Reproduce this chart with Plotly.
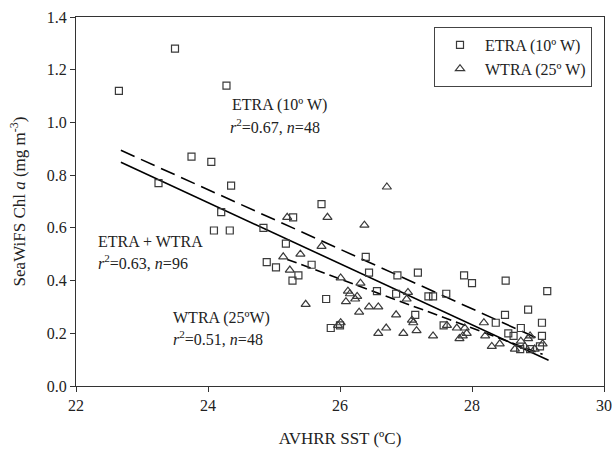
import plotly.graph_objects as go
import numpy as np

# ETRA (10º W) observations: SST (ºC), Chl a (mg m-3)
etra_sst = [22.65, 23.50, 24.28, 23.25, 23.75, 24.05, 24.35, 24.20, 24.09, 24.33,
            24.84, 25.29, 25.72, 25.18, 24.89, 25.03, 25.28, 25.37, 25.57, 25.79,
            25.86, 26.00, 26.39, 26.44, 26.56, 26.85, 26.87, 27.18, 27.14, 27.34,
            27.41, 27.61, 27.57, 27.88, 28.00, 28.51, 29.14, 28.85, 28.50, 28.36,
            29.06, 28.74, 28.55, 28.63, 29.06, 29.03, 28.73, 28.88]
etra_chl = [1.12, 1.28, 1.14, 0.77, 0.87, 0.85, 0.76, 0.66, 0.59, 0.59,
            0.60, 0.64, 0.69, 0.54, 0.47, 0.45, 0.40, 0.42, 0.46, 0.33,
            0.22, 0.23, 0.49, 0.43, 0.36, 0.35, 0.42, 0.43, 0.27, 0.34,
            0.34, 0.35, 0.23, 0.42, 0.39, 0.40, 0.36, 0.29, 0.27, 0.24,
            0.24, 0.22, 0.20, 0.19, 0.19, 0.15, 0.14, 0.14]

# WTRA (25º W) observations
wtra_sst = [25.20, 25.81, 26.37, 26.71, 25.72, 25.40, 25.14, 25.24, 25.48, 26.01,
            26.31, 26.15, 26.26, 26.09, 26.23, 26.29, 26.44, 26.58, 26.01, 26.58,
            26.70, 26.85, 27.01, 27.03, 27.09, 27.11, 27.16, 26.96, 27.41, 27.62,
            27.77, 27.89, 27.92, 27.81, 27.86, 28.18, 28.20, 28.30, 28.42, 28.88,
            28.85, 29.07, 28.74, 28.80, 28.95, 26.12, 25.97, 28.65]
wtra_chl = [0.64, 0.64, 0.61, 0.755, 0.53, 0.50, 0.49, 0.44, 0.31, 0.41,
            0.39, 0.35, 0.34, 0.32, 0.33, 0.28, 0.30, 0.30, 0.24, 0.20,
            0.22, 0.27, 0.33, 0.355, 0.25, 0.24, 0.21, 0.20, 0.19, 0.23,
            0.22, 0.22, 0.20, 0.18, 0.19, 0.24, 0.19, 0.15, 0.16, 0.19,
            0.18, 0.16, 0.17, 0.15, 0.14, 0.36, 0.23, 0.14]

# Regression fits: (intercept, slope, x_start, x_end)
fit_all = (3.480, -0.116, 22.68, 29.16)
fit_etra = (3.457, -0.113, 22.68, 29.00)
fit_wtra = (2.824, -0.093, 25.20, 29.07)

FONT = "Liberation Serif, Times New Roman, serif"
MK = "#3a3a3a"
TXT = "#222"

fig = go.Figure()

def fit_line(fit, dash):
    a, b, x0, x1 = fit
    xs = np.array([x0, x1])
    return go.Scatter(x=xs, y=a + b * xs, mode="lines", showlegend=False,
                      line=dict(color="black", width=1.6, dash=dash), hoverinfo="skip")

fig.add_trace(fit_line(fit_etra, "15px,7px"))
fig.add_trace(fit_line(fit_wtra, "10px,5px"))
fig.add_trace(fit_line(fit_all, "solid"))

fig.add_trace(go.Scatter(x=etra_sst, y=etra_chl, mode="markers", name="ETRA (10º W)",
                         marker=dict(symbol="square-open", size=7, color=MK,
                                     line=dict(width=1.2, color=MK))))
fig.add_trace(go.Scatter(x=wtra_sst, y=wtra_chl, mode="markers", name="WTRA (25º W)",
                         marker=dict(symbol="triangle-up-open", size=8, color=MK,
                                     line=dict(width=1.2, color=MK))))

L, R, T, B = 76, 8, 17, 63
W, H = 612, 449
pw, ph = W - L - R, H - T - B

ann_font = dict(family=FONT, size=16, color=TXT)
annots = [
    (230, 105, "ETRA (10º W)"),
    (228, 126, "<i>r</i><sup>2</sup>=0.67, <i>n</i>=48"),
    (96, 241, "ETRA + WTRA"),
    (96, 262, "<i>r</i><sup>2</sup>=0.63, <i>n</i>=96"),
    (171, 318, "WTRA (25ºW)"),
    (171, 338, "<i>r</i><sup>2</sup>=0.51, <i>n</i>=48"),
]
for px, py, txt in annots:
    fig.add_annotation(x=(px - L) / pw, y=(H - B - py) / ph, xref="paper", yref="paper",
                       xanchor="left", yanchor="middle", text=txt, showarrow=False,
                       font=ann_font)

axis_common = dict(showline=True, linecolor="#333", linewidth=1.2, mirror=True,
                   ticks="outside", ticklen=5, tickcolor="#333", tickwidth=1.2,
                   showgrid=False, zeroline=False, automargin=False,
                   tickfont=dict(family=FONT, size=16, color=TXT))

fig.update_layout(
    width=W, height=H,
    margin=dict(l=L, r=R, t=T, b=B),
    plot_bgcolor="white", paper_bgcolor="white",
    xaxis=dict(range=[22, 30], tickvals=[22, 24, 26, 28, 30],
               title=dict(text="AVHRR SST (ºC)", font=dict(family=FONT, size=17, color=TXT), standoff=18),
               **axis_common),
    yaxis=dict(range=[0, 1.4], tickvals=[0, 0.2, 0.4, 0.6, 0.8, 1.0, 1.2, 1.4],
               tickformat=".1f",
               title=dict(text="SeaWiFS Chl <i>a</i> (mg m<sup>-3</sup>)",
                          font=dict(family=FONT, size=17, color=TXT), standoff=16),
               **axis_common),
    legend=dict(x=(434 - L) / pw, y=(H - B - 27) / ph, xanchor="left", yanchor="top",
                bordercolor="#444", borderwidth=1, bgcolor="white",
                font=dict(family=FONT, size=16, color=TXT),
                itemwidth=40, tracegroupgap=0),
    showlegend=True,
)

fig.write_html("out.html", config={"displayModeBar": False},
               post_script="document.body.style.margin='0';document.body.style.padding='0';")
